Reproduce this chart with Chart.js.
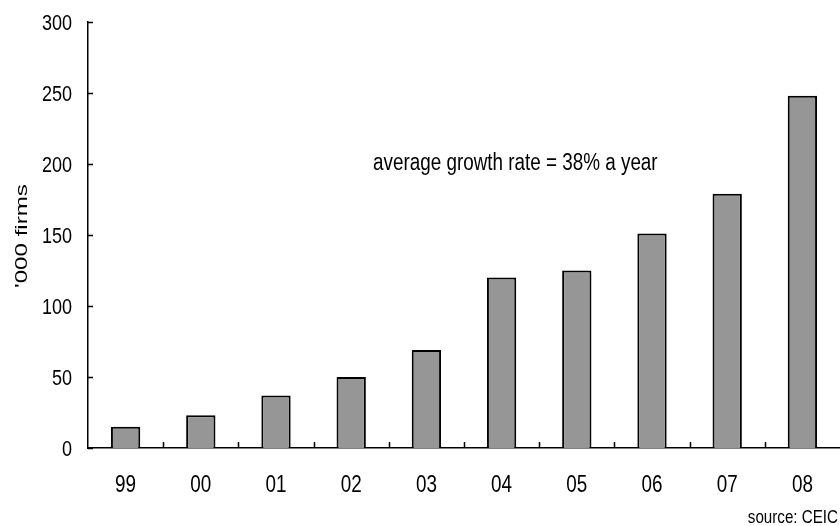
<!DOCTYPE html>
<html>
<head>
<meta charset="utf-8">
<script src="https://cdn.jsdelivr.net/npm/chart.js@4/dist/chart.umd.min.js"></script>
<style>
  html, body { margin: 0; padding: 0; background: #ffffff; }
  #wrap { width: 840px; height: 526px; position: relative; }
</style>
</head>
<body>
<div id="wrap"><canvas id="c" width="840" height="526"></canvas></div>
<script>
// Number of firms by year ('000)
const years = ['99', '00', '01', '02', '03', '04', '05', '06', '07', '08'];
const firms = [15, 23, 37, 50, 69, 120, 125, 151, 179, 248];
const yTicks = [0, 50, 100, 150, 200, 250, 300];

const annotationText = 'average growth rate = 38% a year';
const sourceText = 'source: CEIC';
const yTitle = "'000 firms";

const FONT = '"Liberation Sans", Arial, sans-serif';

// Draws text in a condensed face: sx/sy squeeze or stretch the glyphs
function drawText(ctx, str, x, y, opts) {
  const o = Object.assign({ size: 22, sx: 0.82, sy: 1, align: 'left', angle: 0 }, opts);
  ctx.save();
  ctx.translate(x, y);
  if (o.angle) ctx.rotate(o.angle);
  ctx.scale(o.sx, o.sy);
  ctx.font = o.size + 'px ' + FONT;
  ctx.textAlign = o.align;
  ctx.textBaseline = 'alphabetic';
  ctx.fillStyle = '#000';
  ctx.fillText(str, 0, 0);
  ctx.restore();
}

// Inward tick marks, tick labels, axis title, note and source line
const decorations = {
  id: 'decorations',
  afterDraw(chart) {
    const ctx = chart.ctx;
    const x = chart.scales.x;
    const y = chart.scales.y;
    ctx.save();
    ctx.strokeStyle = '#000';
    ctx.lineWidth = 1.5;
    ctx.beginPath();
    y.ticks.forEach(t => {
      const py = Math.round(y.getPixelForValue(t.value)) + 0.5;
      ctx.moveTo(x.left, py);
      ctx.lineTo(x.left + 5, py);
    });
    const step = (x.right - x.left) / years.length;
    for (let i = 1; i < years.length; i++) {
      const px = Math.round(x.left + i * step) + 0.5;
      ctx.moveTo(px, y.bottom);
      ctx.lineTo(px, y.bottom - 6);
    }
    ctx.stroke();
    ctx.restore();

    // y tick labels
    y.ticks.forEach(t => {
      drawText(ctx, String(t.value), x.left - 16, y.getPixelForValue(t.value) + 8,
        { size: 22, align: 'right' });
    });
    // category labels
    chart.data.labels.forEach((lab, i) => {
      drawText(ctx, lab, x.getPixelForValue(i), y.bottom + 44, { size: 23, align: 'center' });
    });

    drawText(ctx, annotationText, 373, 170, { size: 23 });
    drawText(ctx, sourceText, 838, 523, { size: 18.5, align: 'right' });
    drawText(ctx, yTitle, 27, 236, { size: 17, sx: 1.42, sy: 1, align: 'center', angle: -Math.PI / 2 });
  }
};

new Chart(document.getElementById('c'), {
  type: 'bar',
  data: {
    labels: years,
    datasets: [{
      data: firms,
      backgroundColor: '#969696',
      borderColor: '#000000',
      borderWidth: 2,
      borderSkipped: 'bottom',
      categoryPercentage: 1,
      barPercentage: 0.39
    }]
  },
  options: {
    responsive: false,
    animation: false,
    layout: { padding: { top: 22, right: 0, bottom: 0, left: 0 } },
    plugins: {
      legend: { display: false },
      tooltip: { enabled: false },
      title: { display: false }
    },
    scales: {
      x: {
        offset: true,
        grid: { display: false },
        border: { display: true, color: '#000', width: 1.5 },
        ticks: { display: false },
        afterFit(scale) { scale.height = 78; }
      },
      y: {
        min: 0,
        max: 300,
        afterBuildTicks(scale) { scale.ticks = yTicks.map(v => ({ value: v })); },
        grid: { display: false },
        border: { display: true, color: '#000', width: 1.5 },
        ticks: { display: false },
        afterFit(scale) { scale.width = 88; }
      }
    }
  },
  plugins: [decorations]
});
</script>
</body>
</html>
